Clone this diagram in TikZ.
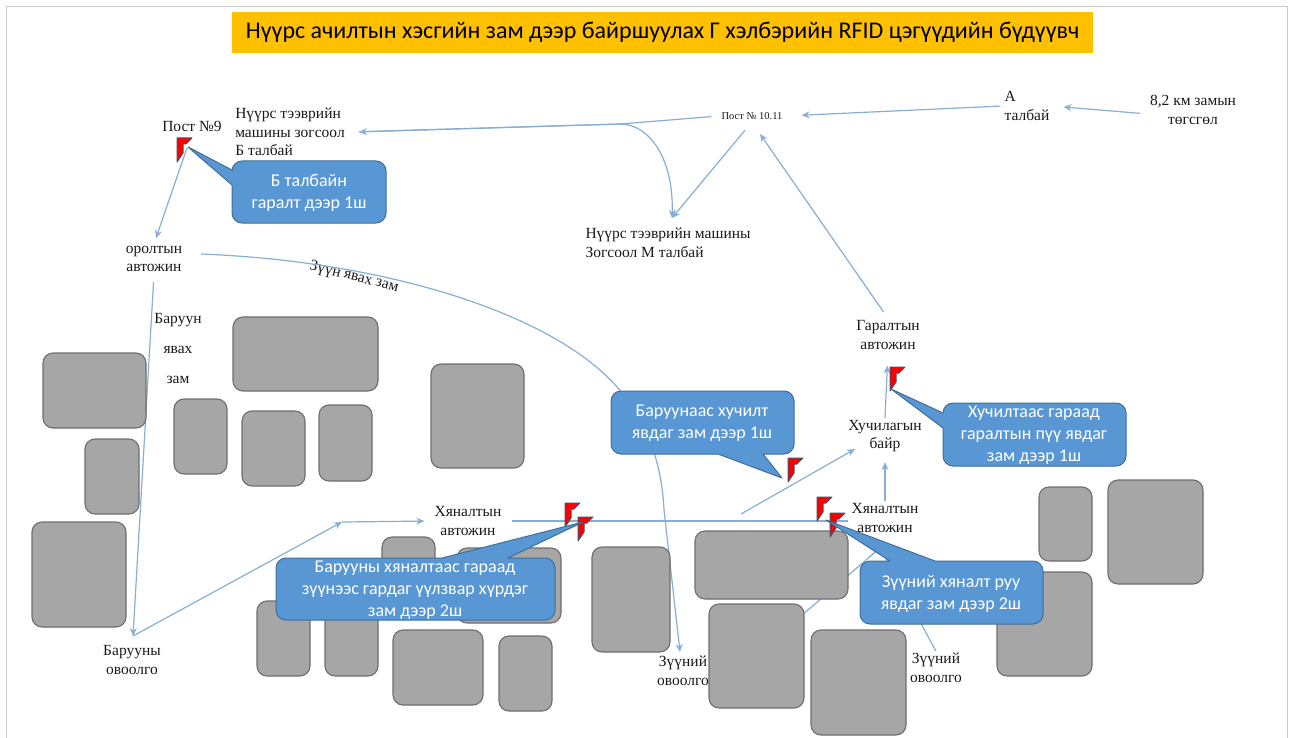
\documentclass[tikz,border=0pt]{standalone}
\usepackage{fontspec}
\setmainfont{Liberation Serif}
\newfontfamily\calibri{Carlito}
\usetikzlibrary{arrows.meta}
\definecolor{roadblue}{HTML}{88AED3}
\definecolor{tipblue}{HTML}{5B9BD5}
\definecolor{calloutblue}{HTML}{5897D3}
\definecolor{calloutline}{HTML}{3F6E99}
\definecolor{blockgray}{HTML}{A6A6A6}
\definecolor{blockline}{HTML}{6E6E6E}
\definecolor{titleyellow}{HTML}{FFC000}
\definecolor{flagline}{HTML}{44506A}
\tikzset{
	road/.style={draw=roadblue,line width=1.2pt,arrows={-[color=tipblue]},shorten <=8pt,shorten >=8pt},
	block/.style={draw=blockline,fill=blockgray,line width=1.1pt,rounded corners=10pt},
	callout/.style={draw=calloutline,fill=calloutblue,line width=1pt},
	calloutText/.style={text=white,align=center,font=\calibri\fontsize{18}{22}\selectfont},
	place/.style={align=center,inner sep=2pt,text=black!90,font=\fontsize{15.5}{18.5}\selectfont},
	flag/.pic={\draw[fill=red,draw=flagline,line width=1pt] (0,0)--(15,0)--(9,6)--(6,6)--(6,15)--(0,24)--cycle;}
}
\begin{document}
\begin{tikzpicture}[x=1pt,y=-1pt,line join=round,>={Stealth[length=8pt,width=7pt]}] %Г хэлбэрийн цэгүүд
	\useasboundingbox (0,0) rectangle (1297,738);
	\draw[black!22,line width=1pt] (6,738)--(6,7)--(1287,7)--(1287,738);
	\node[fill=titleyellow,minimum width=861pt,minimum height=41pt,inner sep=0pt,font=\calibri\fontsize{24}{28}\selectfont] (title) at (662.5,32.5) {Нүүрс ачилтын хэсгийн зам дээр байршуулах Г хэлбэрийн RFID цэгүүдийн бүдүүвч};
	\node[place] (post9) at (192,126) {Пост №9};
	\node[place,align=left] (zogsoolB) at (290,132) {Нүүрс тээврийн\\машины зогсоол\\Б талбай};
	\node[place,font=\fontsize{10.5}{12}\selectfont] (post1011) at (752,116) {Пост № 10.11};
	\node[place,align=left] (talbaiA) at (1027,106) {А\\талбай};
	\node[place] (tegsgel) at (1193,110) {8,2 км замын\\төгсгөл};
	\node[place,align=left] (zogsoolM) at (668,243) {Нүүрс тээврийн машины\\Зогсоол М талбай};
	\node[place] (oroltyn) at (154,259) {оролтын\\автожин};
	\node[place,rotate=-14,font=\fontsize{15.5}{18}\selectfont] (zuunZam) at (354,277) {Зүүн явах зам};
	\node[place,font=\fontsize{15.5}{30}\selectfont] (baruunZam) at (178,348) {Баруун\\явах\\зам};
	\node[place] (garalt) at (888,335) {Гаралтын\\автожин};
	\node[place] (huchilga) at (885,436) {Хучилагын\\байр};
	\node[place] (hyanaltB) at (468,521) {Хяналтын\\автожин};
	\node[place] (hyanaltZ) at (885,518) {Хяналтын\\автожин};
	\node[place] (ovoolgoB) at (132,660) {Барууны\\овоолго};
	\node[place] (ovoolgoZ) at (683,671) {Зүүний\\овоолго};
	\node[place] (ovoolgoD) at (936,668) {Зүүний\\овоолго};
	\coordinate (bend) at (342,522);
	\coordinate (fork) at (620,124);
	\coordinate (forkEnd) at (672,218);
	\coordinate (postTip) at (760,134);
	\coordinate (ovoolgoTop) at (133,636);
	\coordinate (lineEnd) at (848,521);
	\coordinate (startHuch) at (741,514);
	\coordinate (huchTip) at (855,449);
	\coordinate (arcStart) at (201,254);
	\coordinate (arcMid) at (622,393);
	\coordinate (arcKnee) at (664,510);
	\coordinate (arcEnd) at (680,652);
	\coordinate (splitZ) at (880,548);
	\coordinate (splitEnd) at (780,634);
	\draw[road,->,shorten >=12pt] ([yshift=-4pt]tegsgel.west)--(talbaiA.east);
	\draw[road,->,shorten <=2pt,shorten >=17pt] (talbaiA.west)--(post1011.east);
	\draw[road,->,shorten >=0pt] (post1011.west)--(fork)--([xshift=12pt]zogsoolB.east);
	\draw[road,->,shorten <=12pt,shorten >=0pt] (zogsoolB.east)--(fork) .. controls (650,124) and (674,160) .. (forkEnd);
	\draw[road,->,shorten <=11pt,shorten >=0pt] (post1011.south)--(forkEnd);
	\draw[road,->,shorten >=0pt] (garalt.north)--(postTip);
	\draw[road,->,shorten <=15pt,shorten >=6pt] (post9.south)--(oroltyn.north);
	\draw[road,->,shorten >=0pt] (oroltyn.south)--(ovoolgoTop);
	\draw[road,->,shorten <=0pt,shorten >=0pt] (ovoolgoTop)--(bend);
	\draw[road,->,shorten <=0pt] (bend)--(hyanaltB.west);
	\draw[road,shorten >=0pt] (hyanaltB.east)--(lineEnd);
	\draw[road,->,shorten <=0pt,shorten >=0pt] (startHuch)--(huchTip);
	\draw[road,->,shorten <=0pt] (hyanaltZ.north)--(huchilga.south);
	\draw[road,->,shorten <=0pt,shorten >=14pt] (huchilga.north)--(garalt.south);
	\draw[road,shorten <=0pt,shorten >=0pt] (arcStart) .. controls (400,262) and (565,320) .. (arcMid) .. controls (648,425) and (662,465) .. (arcKnee);
	\draw[road,->,shorten <=0pt,shorten >=0pt] (arcKnee)--(arcEnd);
	\draw[road,shorten <=0pt,shorten >=0pt] (splitZ)--(splitEnd);
	\draw[road,shorten <=0pt,shorten >=0pt] (splitZ)--(ovoolgoD.north);
	\draw[block] (43,353) rectangle (146,428);
	\draw[block] (85,439) rectangle (139,514);
	\draw[block] (32,522) rectangle (126,627);
	\draw[block] (233,317) rectangle (378,391);
	\draw[block] (174,399) rectangle (227,474);
	\draw[block] (242,411) rectangle (305,486);
	\draw[block] (319,405) rectangle (372,481);
	\draw[block] (431,364) rectangle (524,468);
	\draw[block] (382,537) rectangle (435,612);
	\draw[block] (457,548) rectangle (561,623);
	\draw[block] (257,601) rectangle (310,676);
	\draw[block] (325,601) rectangle (378,676);
	\draw[block] (393,630) rectangle (483,705);
	\draw[block] (499,636) rectangle (552,711);
	\draw[block] (592,547) rectangle (670,652);
	\draw[block] (695,531) rectangle (848,599);
	\draw[block] (709,604) rectangle (804,708);
	\draw[block] (811,630) rectangle (906,735);
	\draw[block] (997,572) rectangle (1092,676);
	\draw[block] (1039,487) rectangle (1092,561);
	\draw[block] (1108,480) rectangle (1203,584);
	\pic at (177,138) {flag};
	\pic at (890,367) {flag};
	\pic at (788,458) {flag};
	\pic at (565,503) {flag};
	\pic at (578,517) {flag};
	\pic at (817,497) {flag};
	\pic at (830,513) {flag};
	\draw[callout] (188,147)--(232,185) [rounded corners=10pt] --(232,223)--(386,223)--(386,161)--(232,161) [sharp corners] --(232,170)--cycle;
	\node[calloutText] (noteB) at (309,193) {Б талбайн\\гаралт дээр 1ш};
	\draw[callout] (782,478)--(763,454) [rounded corners=10pt] --(794,454)--(794,391)--(611,391)--(611,454) [sharp corners] --(718,454)--cycle;
	\node[calloutText] (noteHuch) at (702,423) {Баруунаас хучилт\\явдаг зам дээр 1ш};
	\draw[callout] (891,389)--(943,428) [rounded corners=10pt] --(943,466)--(1126,466)--(1126,403)--(943,403) [sharp corners] --(943,413)--cycle;
	\node[calloutText] (noteGar) at (1034,435) {Хучилтаас гараад\\гаралтын пүү явдаг\\зам дээр 1ш};
	\draw[callout] (583,522)--(508,558) [rounded corners=10pt] --(555,558)--(555,620)--(276,620)--(276,558) [sharp corners] --(442,558)--cycle;
	\node[calloutText] (noteZuun) at (415,590) {Барууны хяналтаас гараад\\зүүнээс гардаг үүлзвар хүрдэг\\зам дээр 2ш};
	\draw[callout] (826,520)--(935,561) [rounded corners=10pt] --(1043,561)--(1043,624)--(860,624)--(860,561) [sharp corners] --(890,561)--cycle;
	\node[calloutText] (noteHyan) at (951,594) {Зүүний хяналт руу\\явдаг зам дээр 2ш};
\end{tikzpicture}
\end{document}
